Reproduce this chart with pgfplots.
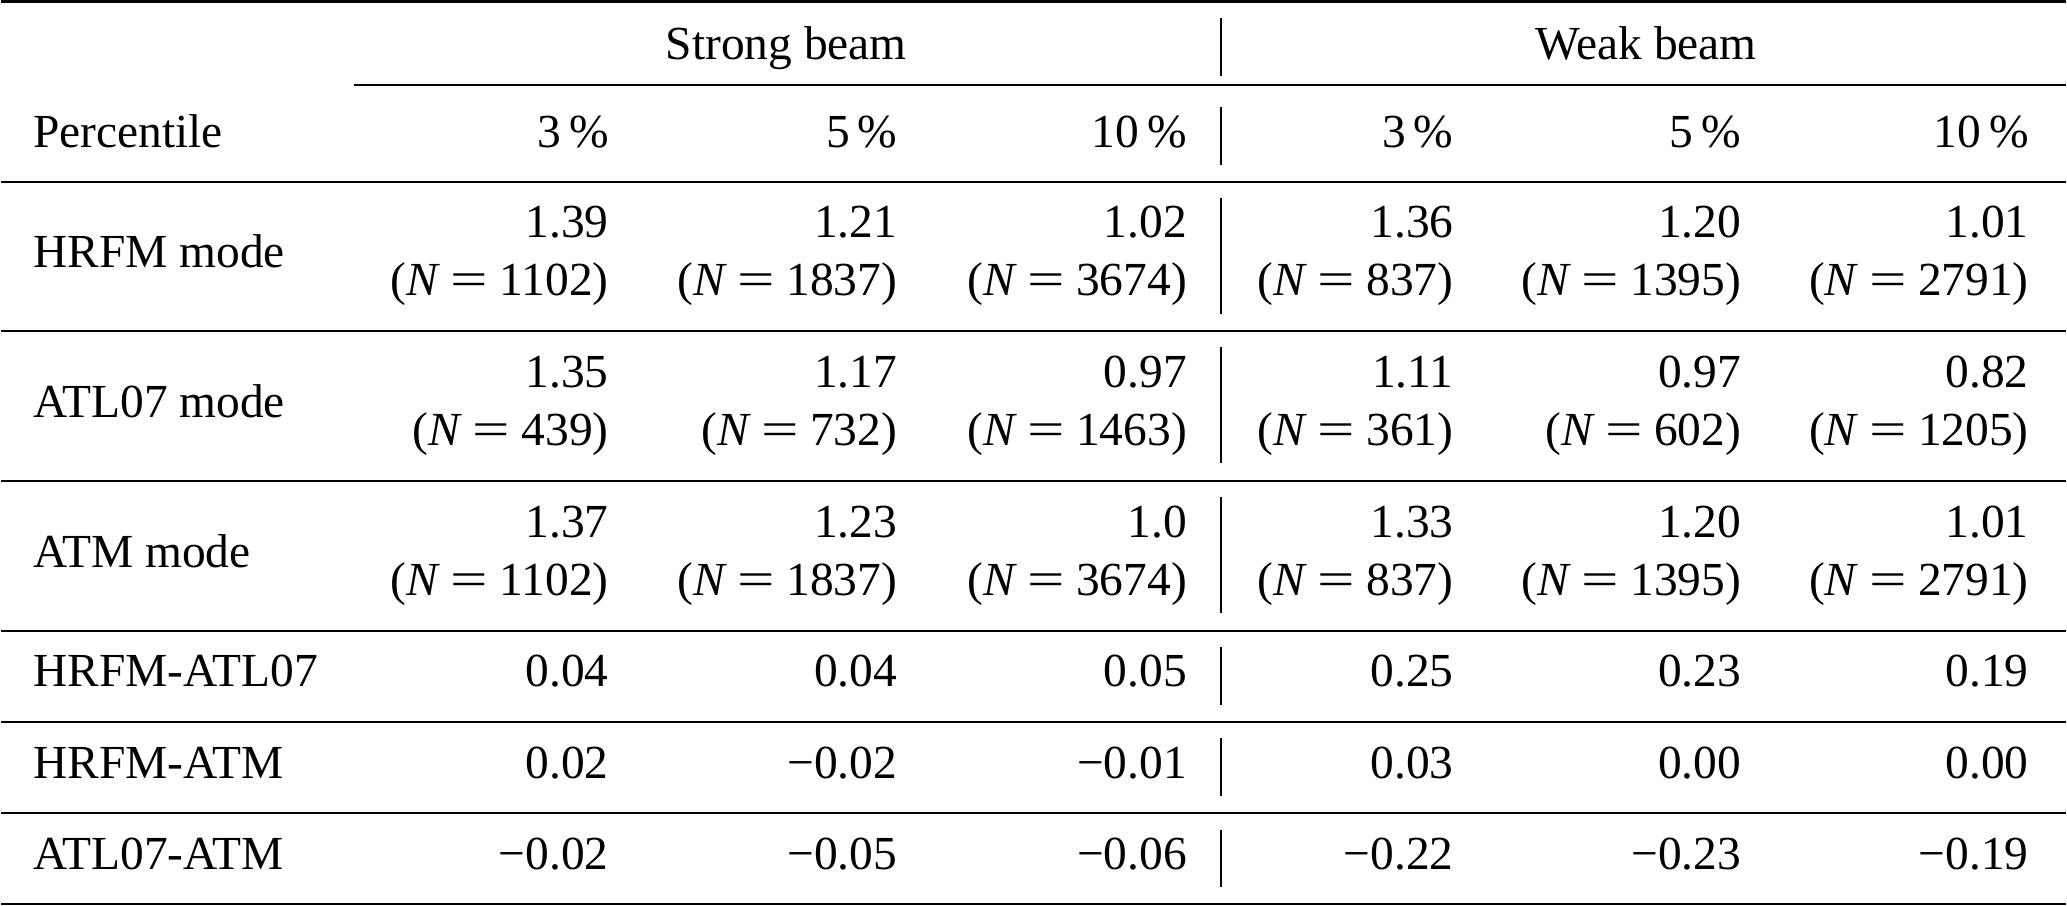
\documentclass[border=0pt]{standalone}
\usepackage{fontspec}
\setmainfont{Liberation Serif}
\usepackage{graphicx}
\usepackage{pgfplots}
\pgfplotsset{compat=1.18}
\newcommand{\NN}[1]{(\textit{N}\hspace{0.22em}\scalebox{1.4}[1]{=}\hspace{0.24em}#1)}
\newcommand{\pc}[1]{#1\,\%}
\tikzset{cell/.style={inner sep=0pt, outer sep=0pt, font=\fontsize{10}{12}\selectfont}}
\begin{document}
\begin{tikzpicture}[every node/.append style={inner sep=0pt, outer sep=0pt}]
\begin{axis}[
  width=435.2pt, height=190.9pt, scale only axis,
  xmin=0, xmax=2067, ymin=0, ymax=907, y dir=reverse,
  hide axis, clip=false,
]
% bounding frame (invisible)
\addplot[draw=none] coordinates {(0,0) (2067,907)};
% horizontal rules
\addplot[black, line width=0.58pt] coordinates {(0,1.4) (2067,1.4)};
\addplot[black, line width=0.42pt] coordinates {(353,85) (2067,85)};
\addplot[black, line width=0.42pt] coordinates {(0,182) (2067,182)};
\addplot[black, line width=0.42pt] coordinates {(0,331.7) (2067,331.7)};
\addplot[black, line width=0.42pt] coordinates {(0,481.7) (2067,481.7)};
\addplot[black, line width=0.42pt] coordinates {(0,631.7) (2067,631.7)};
\addplot[black, line width=0.42pt] coordinates {(0,722.7) (2067,722.7)};
\addplot[black, line width=0.42pt] coordinates {(0,814) (2067,814)};
\addplot[black, line width=0.5pt] coordinates {(0,905.3) (2067,905.3)};
% vertical separators
\addplot[black, line width=0.38pt] coordinates {(1221,18) (1221,76)};
\addplot[black, line width=0.38pt] coordinates {(1221,107) (1221,165)};
\addplot[black, line width=0.38pt] coordinates {(1221,198) (1221,315)};
\addplot[black, line width=0.38pt] coordinates {(1221,348) (1221,464)};
\addplot[black, line width=0.38pt] coordinates {(1221,498) (1221,614)};
\addplot[black, line width=0.38pt] coordinates {(1221,648) (1221,706)};
\addplot[black, line width=0.38pt] coordinates {(1221,739) (1221,797)};
\addplot[black, line width=0.38pt] coordinates {(1221,831) (1221,888)};

% headers
\node[cell, anchor=base] at (axis cs:786,59.5) {Strong beam};
\node[cell, anchor=base] at (axis cs:1647,59.5) {Weak beam};
\node[cell, anchor=base west] at (axis cs:32,148) {Percentile};
\node[cell, anchor=base east] at (axis cs:608,148) {\pc{3}};
\node[cell, anchor=base east] at (axis cs:897,148) {\pc{5}};
\node[cell, anchor=base east] at (axis cs:1187,148) {\pc{10}};
\node[cell, anchor=base east] at (axis cs:1454,148) {\pc{3}};
\node[cell, anchor=base east] at (axis cs:1742,148) {\pc{5}};
\node[cell, anchor=base east] at (axis cs:2030,148) {\pc{10}};

% row labels
\node[cell, anchor=base west] at (axis cs:32,268) {HRFM mode};
\node[cell, anchor=base west] at (axis cs:32,418) {ATL07 mode};
\node[cell, anchor=base west] at (axis cs:32,568) {ATM mode};
\node[cell, anchor=base west] at (axis cs:32,688) {HRFM-ATL07};
\node[cell, anchor=base west] at (axis cs:32,780) {HRFM-ATM};
\node[cell, anchor=base west] at (axis cs:32,871) {ATL07-ATM};

% HRFM mode
\node[cell, anchor=base east] at (axis cs:608,238) {1.39};
\node[cell, anchor=base east] at (axis cs:608,295.5) {\NN{1102}};
\node[cell, anchor=base east] at (axis cs:897,238) {1.21};
\node[cell, anchor=base east] at (axis cs:897,295.5) {\NN{1837}};
\node[cell, anchor=base east] at (axis cs:1187,238) {1.02};
\node[cell, anchor=base east] at (axis cs:1187,295.5) {\NN{3674}};
\node[cell, anchor=base east] at (axis cs:1454,238) {1.36};
\node[cell, anchor=base east] at (axis cs:1454,295.5) {\NN{837}};
\node[cell, anchor=base east] at (axis cs:1742,238) {1.20};
\node[cell, anchor=base east] at (axis cs:1742,295.5) {\NN{1395}};
\node[cell, anchor=base east] at (axis cs:2030,238) {1.01};
\node[cell, anchor=base east] at (axis cs:2030,295.5) {\NN{2791}};

% ATL07 mode
\node[cell, anchor=base east] at (axis cs:608,388.5) {1.35};
\node[cell, anchor=base east] at (axis cs:608,446) {\NN{439}};
\node[cell, anchor=base east] at (axis cs:897,388.5) {1.17};
\node[cell, anchor=base east] at (axis cs:897,446) {\NN{732}};
\node[cell, anchor=base east] at (axis cs:1187,388.5) {0.97};
\node[cell, anchor=base east] at (axis cs:1187,446) {\NN{1463}};
\node[cell, anchor=base east] at (axis cs:1454,388.5) {1.11};
\node[cell, anchor=base east] at (axis cs:1454,446) {\NN{361}};
\node[cell, anchor=base east] at (axis cs:1742,388.5) {0.97};
\node[cell, anchor=base east] at (axis cs:1742,446) {\NN{602}};
\node[cell, anchor=base east] at (axis cs:2030,388.5) {0.82};
\node[cell, anchor=base east] at (axis cs:2030,446) {\NN{1205}};

% ATM mode
\node[cell, anchor=base east] at (axis cs:608,538.5) {1.37};
\node[cell, anchor=base east] at (axis cs:608,596) {\NN{1102}};
\node[cell, anchor=base east] at (axis cs:897,538.5) {1.23};
\node[cell, anchor=base east] at (axis cs:897,596) {\NN{1837}};
\node[cell, anchor=base east] at (axis cs:1187,538.5) {1.0};
\node[cell, anchor=base east] at (axis cs:1187,596) {\NN{3674}};
\node[cell, anchor=base east] at (axis cs:1454,538.5) {1.33};
\node[cell, anchor=base east] at (axis cs:1454,596) {\NN{837}};
\node[cell, anchor=base east] at (axis cs:1742,538.5) {1.20};
\node[cell, anchor=base east] at (axis cs:1742,596) {\NN{1395}};
\node[cell, anchor=base east] at (axis cs:2030,538.5) {1.01};
\node[cell, anchor=base east] at (axis cs:2030,596) {\NN{2791}};

% differences
\node[cell, anchor=base east] at (axis cs:608,688) {0.04};
\node[cell, anchor=base east] at (axis cs:897,688) {0.04};
\node[cell, anchor=base east] at (axis cs:1187,688) {0.05};
\node[cell, anchor=base east] at (axis cs:1454,688) {0.25};
\node[cell, anchor=base east] at (axis cs:1742,688) {0.23};
\node[cell, anchor=base east] at (axis cs:2030,688) {0.19};

\node[cell, anchor=base east] at (axis cs:608,780) {0.02};
\node[cell, anchor=base east] at (axis cs:897,780) {−0.02};
\node[cell, anchor=base east] at (axis cs:1187,780) {−0.01};
\node[cell, anchor=base east] at (axis cs:1454,780) {0.03};
\node[cell, anchor=base east] at (axis cs:1742,780) {0.00};
\node[cell, anchor=base east] at (axis cs:2030,780) {0.00};

\node[cell, anchor=base east] at (axis cs:608,871) {−0.02};
\node[cell, anchor=base east] at (axis cs:897,871) {−0.05};
\node[cell, anchor=base east] at (axis cs:1187,871) {−0.06};
\node[cell, anchor=base east] at (axis cs:1454,871) {−0.22};
\node[cell, anchor=base east] at (axis cs:1742,871) {−0.23};
\node[cell, anchor=base east] at (axis cs:2030,871) {−0.19};
\end{axis}
\end{tikzpicture}
\end{document}
